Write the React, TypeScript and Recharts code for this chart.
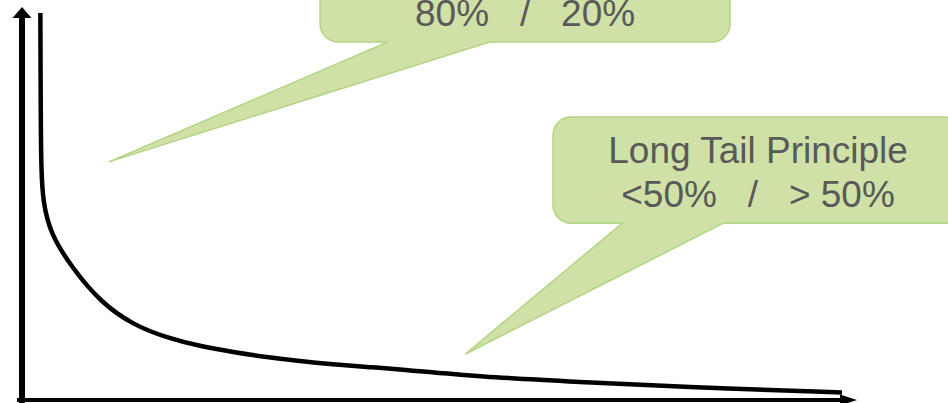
import React from "react";
import { LineChart, Line, XAxis, YAxis, ReferenceLine, ReferenceArea } from "recharts";

// popularity curve: product rank vs. demand (arbitrary units, 0..100)
const rank = [2.2, 2.22, 2.25, 2.3, 2.5, 3.4, 6.0, 9.45, 13.3, 17.4, 21.3, 25.3, 29.3, 33.3, 37.2, 41.3, 45.3, 54.9, 66.8, 78.8, 98.2];
const demand = [98.5, 85, 72, 59, 50.5, 42.3, 33.6, 24.8, 19.1, 15.8, 13.7, 12.2, 10.9, 9.9, 9.1, 8.4, 7.8, 5.9, 4.6, 3.3, 1.9];

const calloutText = [["80%   /   20%"], ["Long Tail Principle", "<50%   /   > 50%"]];

const data = rank.map((r, i) => ({ rank: r, demand: demand[i] }));

const FILL = "#cfe1a6";
const EDGE = "#b3d585";
const INK = "#595959";

// callout layout in data units
const callouts = [
  { x1: 35.7, x2: 84.8, y1: 91.1, y2: 112, baseL: 43.8, baseR: 56.0, tipX: 10.4, tipY: 60.6 },
  { x1: 63.6, x2: 112.7, y1: 45.0, y2: 72.0, baseL: 71.9, baseR: 84.0, tipX: 53.1, tipY: 11.7 },
];

function makeCallout(c: (typeof callouts)[number], lines: string[]) {
  return (p: any) => {
    const { x, y, width: w, height: h } = p;
    const sx = w / (c.x2 - c.x1);
    const sy = h / (c.y2 - c.y1);
    const px = (v: number) => x + (v - c.x1) * sx;
    const py = (v: number) => y + (c.y2 - v) * sy;
    const r = 18;
    const b = y + h;
    const d = [
      `M${x + r},${y}`,
      `H${x + w - r}`,
      `A${r},${r} 0 0 1 ${x + w},${y + r}`,
      `V${b - r}`,
      `A${r},${r} 0 0 1 ${x + w - r},${b}`,
      `H${px(c.baseR)}`,
      `L${px(c.tipX)},${py(c.tipY)}`,
      `L${px(c.baseL)},${b}`,
      `H${x + r}`,
      `A${r},${r} 0 0 1 ${x},${b - r}`,
      `V${y + r}`,
      `A${r},${r} 0 0 1 ${x + r},${y}`,
      "Z",
    ].join(" ");
    const cx = x + w / 2;
    return (
      <g>
        <path d={d} fill={FILL} stroke={EDGE} strokeWidth={1.5} />
        {lines.map((t, i) => (
          <text
            key={i}
            x={cx}
            y={b - 16 - (lines.length - 1 - i) * 44}
            textAnchor="middle"
            fill={INK}
            fontSize={37}
            fontFamily="'Liberation Sans', Arial, sans-serif"
            style={{ whiteSpace: "pre" }}
          >
            {t}
          </text>
        ))}
      </g>
    );
  };
}

function arrowLine(width: number, head: number, half: number) {
  return (p: any) => {
    const { x1, y1, x2, y2 } = p;
    const len = Math.hypot(x2 - x1, y2 - y1) || 1;
    const ux = (x2 - x1) / len;
    const uy = (y2 - y1) / len;
    const bx = x2 - ux * head;
    const by = y2 - uy * head;
    const nx = -uy * half;
    const ny = ux * half;
    return (
      <g>
        <line x1={x1} y1={y1} x2={bx} y2={by} stroke="#000" strokeWidth={width} />
        <polygon points={`${x2},${y2} ${bx + nx},${by + ny} ${bx - nx},${by - ny}`} fill="#000" />
      </g>
    );
  };
}

export default function App() {
  return (
    <div style={{ position: "absolute", left: 0, top: 0, width: 948, height: 403, background: "#fff" }}>
      <LineChart width={948} height={403} data={data} margin={{ top: 7, right: 91, bottom: 3, left: 22 }}>
        <XAxis dataKey="rank" type="number" domain={[0, 100]} hide allowDataOverflow />
        <YAxis type="number" domain={[0, 100]} hide allowDataOverflow />
        <ReferenceLine
          segment={[{ x: 0, y: -1 }, { x: 0, y: 100 }]}
          ifOverflow="visible"
          shape={arrowLine(6, 11, 9.5)}
        />
        <ReferenceLine
          segment={[{ x: -0.6, y: 0 }, { x: 100, y: 0 }]}
          ifOverflow="visible"
          shape={arrowLine(4, 17, 5.5)}
        />
        <Line
          type="basis"
          dataKey="demand"
          stroke="#000"
          strokeWidth={4.5}
          dot={false}
          activeDot={false}
          isAnimationActive={false}
        />
        {callouts.map((c, i) => (
          <ReferenceArea
            key={i}
            x1={c.x1}
            x2={c.x2}
            y1={c.y1}
            y2={c.y2}
            ifOverflow="visible"
            shape={makeCallout(c, calloutText[i])}
          />
        ))}
      </LineChart>
    </div>
  );
}
